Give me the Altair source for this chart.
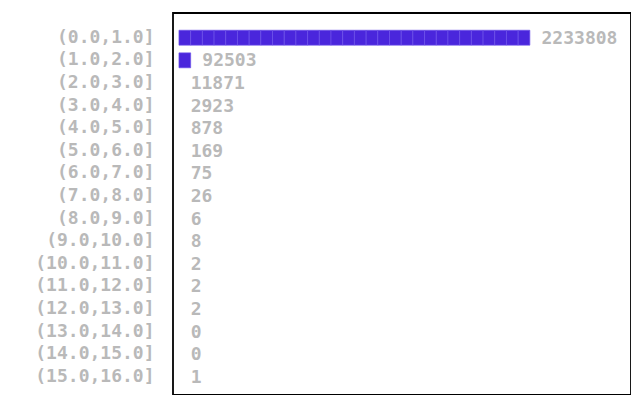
import altair as alt
import pandas as pd

labels = ["(0.0,1.0]", "(1.0,2.0]", "(2.0,3.0]", "(3.0,4.0]", "(4.0,5.0]",
          "(5.0,6.0]", "(6.0,7.0]", "(7.0,8.0]", "(8.0,9.0]", "(9.0,10.0]",
          "(10.0,11.0]", "(11.0,12.0]", "(12.0,13.0]", "(13.0,14.0]",
          "(14.0,15.0]", "(15.0,16.0]"]
counts = [2233808, 92503, 11871, 2923, 878, 169, 75, 26, 6, 8, 2, 2, 2, 0, 0, 1]
max_blocks = 30

peak = max(counts)
nblocks = [int(round(c / peak * max_blocks)) for c in counts]

block_rows = []
for lab, n in zip(labels, nblocks):
    for i in range(n):
        block_rows.append({"label": lab, "x0": i, "x1": i + 1})
blocks = pd.DataFrame(block_rows)

text_df = pd.DataFrame({"label": labels, "count": counts,
                        "pos": [n + 1 for n in nblocks]})

font = "DejaVu Sans Mono"
gray = "#b9b9b9"

xscale = alt.Scale(domain=[-0.51, 38.65], nice=False, zero=False)
yscale = alt.Scale(paddingInner=0.34, paddingOuter=0.615, align=0.62)
yenc = alt.Y("label:N", sort=labels, scale=yscale,
             axis=alt.Axis(title=None, ticks=False, domain=False, grid=False,
                           labelFont=font, labelFontSize=18, labelColor=gray,
                           labelFontWeight="bold", labelPadding=19))

bars = alt.Chart(blocks).mark_rect(
    fill="#4a26dc", stroke="#6d52ea", strokeWidth=0.7
).encode(
    x=alt.X("x0:Q", scale=xscale, axis=None),
    x2="x1:Q",
    y=yenc,
)

txt = alt.Chart(text_df).mark_text(
    align="left", baseline="middle", font=font, fontSize=18,
    fontWeight="bold", color=gray, dy=1
).encode(
    x=alt.X("pos:Q", scale=xscale, axis=None),
    y=alt.Y("label:N", sort=labels),
    text="count:N",
)

chart = alt.layer(bars, txt).properties(
    width=458, height=382, background="white",
    padding={"left": 26, "top": 5, "right": 0, "bottom": 0},
).configure_view(
    stroke="black", strokeWidth=1.8
)

chart.save("out.html", embed_options={"renderer": "svg", "actions": False})
